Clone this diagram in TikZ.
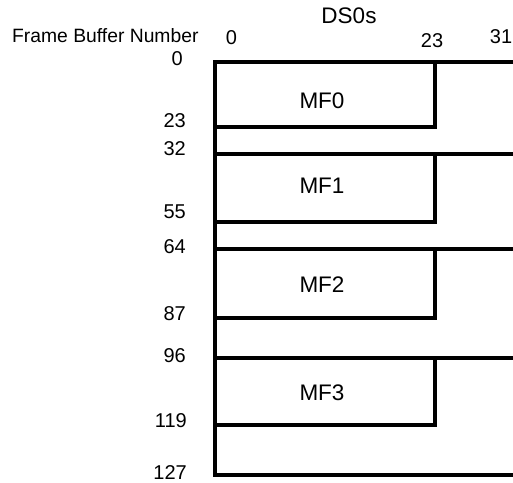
\documentclass[tikz,border=0pt]{standalone}
\usepackage{fontspec}
\setmainfont{Liberation Sans}
\begin{document}
\begin{tikzpicture}[x=1pt,y=-1pt,
  frame/.style={line width=4pt, line join=miter, line cap=rect},
  lbl/.style={font=\fontsize{20}{22}\selectfont, inner sep=0pt, anchor=base},
  rowlbl/.style={lbl, anchor=base east},
  big/.style={font=\fontsize{22.5}{25}\selectfont, inner sep=0pt, anchor=base}]
\useasboundingbox (0,0) rectangle (513,482);
% coordinates
\coordinate (tl) at (215,62);
\coordinate (bl) at (215,475);
\coordinate (tr) at (525,62);
\coordinate (br) at (525,475);
% outer frame
\draw[frame] (tr) -- (tl) -- (bl) -- (br);
% full-width separators
\foreach \yy/\nm in {154/s1, 249/s2, 358/s3}{
  \coordinate (\nm l) at (215,\yy);
  \coordinate (\nm r) at (525,\yy);
  \draw[frame] (\nm l) -- (\nm r);
}
% MF boxes (right edge and bottom)
\foreach \yt/\yb/\nm in {62/127/b0, 154/222/b1, 249/318/b2, 358/425/b3}{
  \coordinate (\nm t) at (435,\yt);
  \coordinate (\nm b) at (215,\yb);
  \draw[frame] (\nm t) |- (\nm b);
}
% headings
\node[big] (ds) at (349,23) {DS0s};
\node[lbl, anchor=base west, font=\fontsize{19.3}{21}\selectfont] (fbn) at (12,42) {Frame Buffer Number};
\node[lbl] (c0) at (231.5,44) {0};
\node[lbl] (c23) at (432,47) {23};
\node[lbl] (c31) at (501,43) {31};
% row labels
\node[rowlbl] (r0) at (183,65) {0};
\node[rowlbl] (r23) at (186,127) {23};
\node[rowlbl] (r32) at (186,155) {32};
\node[rowlbl] (r55) at (186,218) {55};
\node[rowlbl] (r64) at (186,253) {64};
\node[rowlbl] (r87) at (186,320) {87};
\node[rowlbl] (r96) at (186,362) {96};
\node[rowlbl] (r119) at (187,427) {119};
\node[rowlbl] (r127) at (187,479) {127};
% MF labels
\node[big] (mf0) at (322,108) {MF0};
\node[big] (mf1) at (322,193) {MF1};
\node[big] (mf2) at (322,292) {MF2};
\node[big] (mf3) at (322,400) {MF3};
\end{tikzpicture}
\end{document}
